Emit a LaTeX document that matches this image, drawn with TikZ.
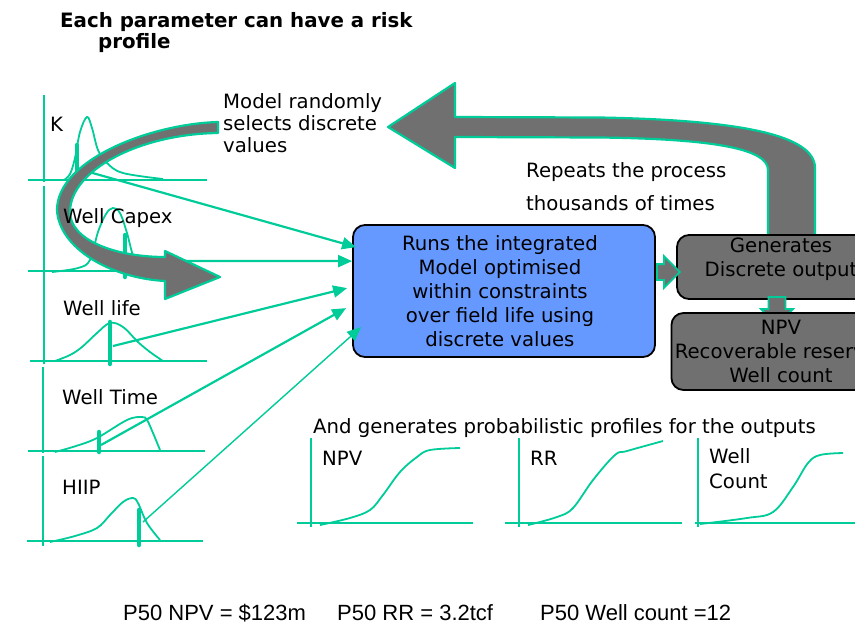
\documentclass[tikz,border=0pt]{standalone}
\usepackage{fontspec}
\setmainfont{DejaVu Sans}
\newfontfamily\notefont{Liberation Sans}
\usetikzlibrary{positioning,calc,arrows.meta,shapes.arrows}

\definecolor{riskgreen}{RGB}{0,204,153}
\definecolor{runblue}{RGB}{102,153,255}
\definecolor{outgray}{RGB}{112,112,112}

\newcommand\txtfont{\fontsize{19.7}{24}\selectfont}

\tikzset{
  axisline/.style={draw=riskgreen,line width=2.6pt},
  pdfline/.style={draw=riskgreen,line width=1.8pt},
  pickbar/.style={draw=riskgreen,line width=4.5pt,line cap=round},
  feedline/.style={draw=riskgreen,line width=2.2pt,-{Triangle[length=14pt,width=12pt]}},
  bigarrow/.style={fill=outgray,draw=riskgreen,line width=2.2pt,line join=round},
  blockarrow/.style={single arrow,fill=outgray,draw=riskgreen,line width=1.8pt,inner xsep=0pt,single arrow head extend=8pt},
  procbox/.style={rectangle,rounded corners=12pt,draw=black,line width=1.8pt,align=center},
  paramtext/.style={font=\txtfont,inner sep=0pt,anchor=base west},
  p50text/.style={font=\notefont\fontsize{22}{26}\selectfont,inner sep=0pt,anchor=base west}
}

\begin{document}
\begin{tikzpicture}[x=1pt,y=-1pt]
    \useasboundingbox (0,0) rectangle (855,638);
    \clip (0,0) rectangle (855,638);

    % input profiles (left column)
    \draw[axisline] (44,95) -- (44,182);
    \draw[axisline] (44,186) -- (44,364);
    \draw[axisline] (43,367) -- (43,453);
    \draw[axisline] (43,456) -- (43,546);
    \draw[axisline] (28,180) -- (207,180);
    \draw[axisline] (28,271) -- (208,271);
    \draw[axisline] (30,361) -- (207,361);
    \draw[axisline] (28,451) -- (205,451);
    \draw[axisline] (27,541) -- (203,541);

    \draw[pdfline] plot[smooth,tension=0.6] coordinates {(64,180) (70,174) (75,158) (80,132) (87,117) (92,128) (98,150) (107,163) (123,173) (163,179)};
    \draw[pdfline] plot[smooth,tension=0.6] coordinates {(52,272) (78,268) (90,260) (98,232) (106,214) (113,208) (120,213) (127,233) (133,255) (140,263) (150,267)};
    \draw[pdfline] plot[smooth,tension=0.6] coordinates {(55,361) (70,355) (82,347) (97,333) (110,323) (123,327) (138,342) (150,352) (163,361)};
    \draw[pdfline] plot[smooth,tension=0.6] coordinates {(55,452) (76,446) (97,438) (127,420) (142,417) (147,420) (153,433) (160,450)};
    \draw[pdfline] plot[smooth,tension=0.6] coordinates {(50,542) (75,536) (97,528) (110,515) (123,502) (133,498) (138,503) (147,523) (160,540)};

    \draw[pickbar] (77,145) -- (77,182);
    \draw[pickbar] (125,235) -- (125,277);
    \draw[pickbar] (110,322) -- (110,364);
    \draw[pickbar] (99,432) -- (99,452);
    \draw[pickbar] (139,510) -- (139,545);

    % output profiles (bottom row)
    \draw[axisline] (311,438) -- (311,527);
    \draw[axisline] (297,523) -- (473,523);
    \draw[axisline] (519,438) -- (519,527);
    \draw[axisline] (505,523) -- (682,523);
    \draw[axisline] (698,438) -- (698,527);
    \draw[axisline] (695,523) -- (860,523);
    \draw[pdfline] plot[smooth,tension=0.6] coordinates {(320,525) (350,518) (370,510) (383,495) (400,472) (417,457) (430,450) (460,448)};
    \draw[pdfline] plot[smooth,tension=0.6] coordinates {(528,525) (557,517) (573,508) (593,480) (615,455) (627,451) (663,441)};
    \draw[pdfline] plot[smooth,tension=0.6] coordinates {(700,524) (747,518) (773,512) (793,487) (808,463) (820,455) (843,453)};

    % repeat loop
    \filldraw[bigarrow] (455,117) -- (600,117.5) .. controls (740,120) and (815,135) .. (815,168) -- (815,240) -- (768,240) -- (768,170) .. controls (768,150) and (720,139) .. (600,137.5) -- (455,137) -- (455,168) -- (388,127) -- (455,83) -- cycle;

    % model and outputs
    \node[procbox,fill=runblue,minimum width=302,minimum height=132] (run) at (504,291) {};
    \node[font=\txtfont,align=center] (run-text) at ($(run.center)+(-4,0)$) {Runs the integrated\\Model optimised\\within constraints\\over field life using\\discrete values};
    \node[procbox,fill=outgray,minimum width=208,minimum height=64] (gen) at (781,267) {};
    \node[font=\txtfont,align=center] (gen-text) at ($(gen.center)+(0,-8)$) {Generates\\Discrete output};
    \node[blockarrow,minimum height=23,inner ysep=7pt] (step) at (664.5,272) {};
    \filldraw[bigarrow,line width=1.8pt,line join=miter] (768.5,297) -- (785.5,297) -- (785.5,309) -- (793,309) -- (777,325) -- (761,309) -- (768.5,309) -- cycle;
    \node[procbox,fill=outgray,minimum width=200,minimum height=77,font=\txtfont] (npv) at (781,351.5) {NPV\\Recoverable reserves\\Well count};

    % sampled values into the model
    \coordinate (k-from) at (89,172);
    \coordinate (capex-from) at (127,261);
    \coordinate (life-from) at (113,346);
    \coordinate (time-from) at (101,445);
    \coordinate (hiip-from) at (143,522);
    \coordinate (run-in1) at ($(run.north west)+(4,23)$);
    \coordinate (run-in2) at ($(run.north west)+(0,37)$);
    \coordinate (run-in3) at ($(run.north west)+(-5,64)$);
    \coordinate (run-in4) at ($(run.north west)+(-6,84)$);
    \coordinate (run-in5) at ($(run.north west)+(9,103)$);
    \draw[feedline] (k-from) -- (run-in1);
    \draw[feedline] (capex-from) -- (run-in2);
    \draw[feedline] (life-from) -- (run-in3);
    \draw[feedline] (time-from) -- (run-in4);
    \draw[feedline,line width=1.4pt] (hiip-from) -- (run-in5);

    % random selection
    \filldraw[bigarrow] (218,122) .. controls (150,124) and (57,160) .. (57,210) .. controls (59,248) and (110,278) .. (165,281) -- (165,299) -- (220,277) -- (165,251) -- (165,257) .. controls (115,257) and (70,240) .. (70,212) .. controls (70,170) and (140,134) .. (218,133) -- cycle;

    % texts
    \node[anchor=north west,inner sep=0pt,align=left,font=\bfseries\fontsize{19.8}{21}\selectfont] (title) at (60,12) {Each parameter can have a risk\\\hspace*{38pt}profile};
    \node[paramtext] (k-name) at (50,131) {K};
    \node[paramtext] (capex-name) at (63,223) {Well Capex};
    \node[paramtext] (life-name) at (63,315) {Well life};
    \node[paramtext] (time-name) at (62,404) {Well Time};
    \node[paramtext] (hiip-name) at (62,494) {HIIP};
    \node[paramtext,anchor=north west,align=left,font=\fontsize{19.7}{22}\selectfont] (pick-note) at (223,93.2) {Model randomly\\selects discrete\\values};
    \node[paramtext,anchor=north west,align=left,font=\fontsize{19.7}{33}\selectfont] (repeat-note) at (526,162.2) {Repeats the process\\thousands of times};
    \node[paramtext] (profile-note) at (313,433) {And generates probabilistic profiles for the outputs};
    \node[paramtext] (npv-name) at (322,465) {NPV};
    \node[paramtext] (rr-name) at (530,465) {RR};
    \node[paramtext,anchor=north west,align=left,font=\fontsize{19.7}{25}\selectfont] (count-name) at (709,448.2) {Well\\Count};
    \node[p50text] (p50-npv) at (123,620) {P50 NPV = \$123m};
    \node[p50text] (p50-rr) at (337,620) {P50 RR = 3.2tcf};
    \node[p50text] (p50-count) at (540,620) {P50 Well count =12};
\end{tikzpicture}
\end{document}
